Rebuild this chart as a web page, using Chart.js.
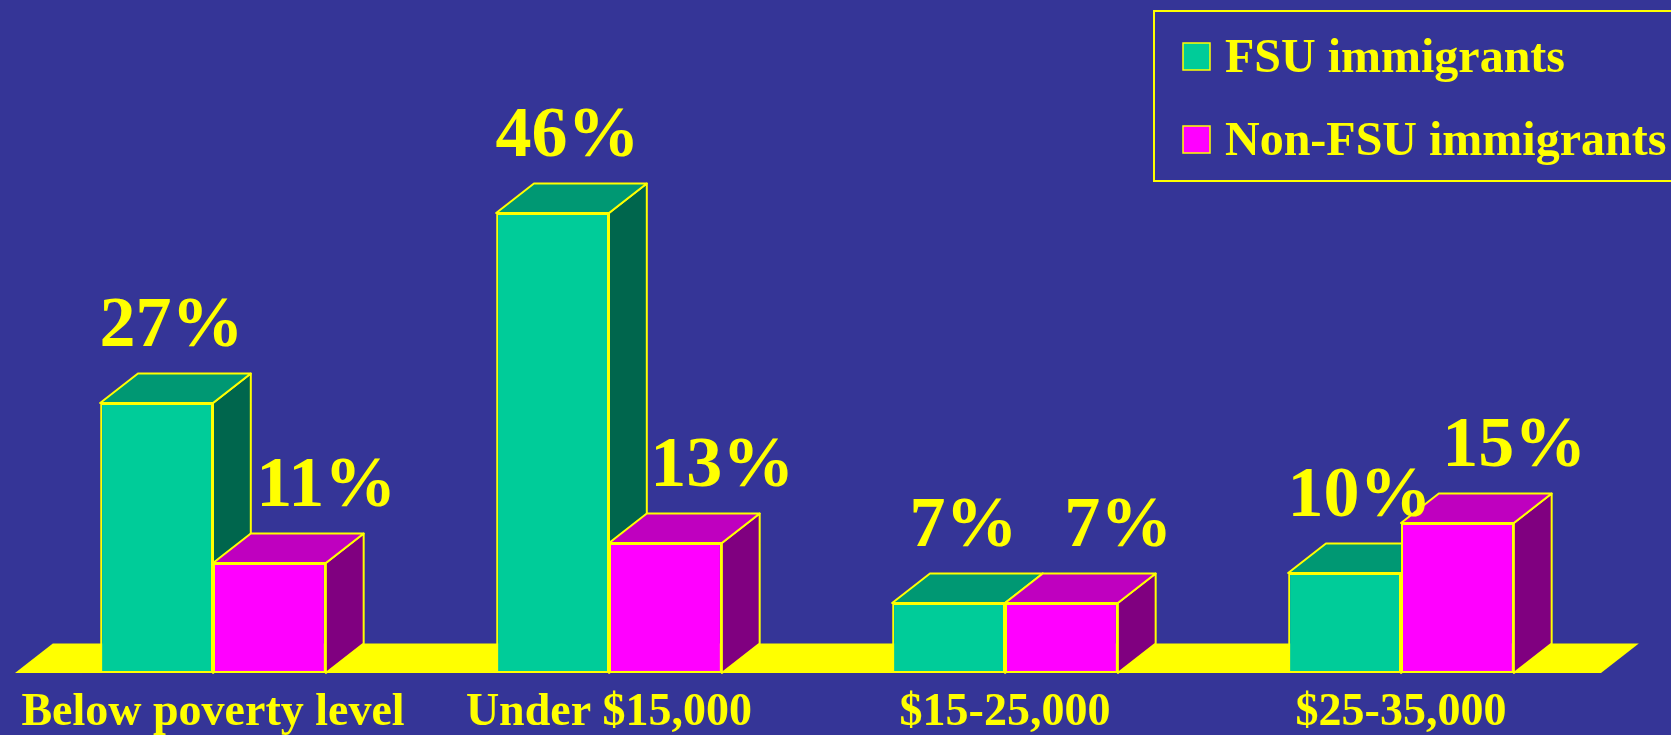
<!DOCTYPE html>
<html>
<head>
<meta charset="utf-8">
<title>Household income: FSU vs non-FSU immigrants</title>
<script src="https://cdn.jsdelivr.net/npm/chart.js@4/dist/chart.umd.min.js"></script>
<style>
  html, body { margin: 0; padding: 0; background: #353597; }
  #wrap { width: 1671px; height: 735px; }
</style>
</head>
<body>
<div id="wrap"><canvas id="incomeChart" width="1671" height="735"></canvas></div>
<script>
// Income brackets and share of each group (%)
const categories = ['Below poverty level', 'Under $15,000', '$15-25,000', '$25-35,000'];
const fsuValues = [27, 46, 7, 10];
const nonFsuValues = [11, 13, 7, 15];
const seriesNames = ['FSU immigrants', 'Non-FSU immigrants'];

const YELLOW = '#FFFF00';
const SERIF = '"Liberation Serif", "Times New Roman", serif';

// front / top / side shades per series
const shades = [
    { front: '#00CC99', top: '#009873', side: '#00664D' },
    { front: '#FF00FF', top: '#BF00BF', side: '#800080' }
];

// draws the floor slab, the top and side faces of each bar, the legend box and value labels
const bars3d = {
    id: 'bars3d',
    beforeDraw(chart) {
        const ctx = chart.ctx;
        ctx.save();
        ctx.fillStyle = '#353597';
        ctx.fillRect(0, 0, chart.width, chart.height);
        ctx.restore();
    },
    beforeDatasetsDraw(chart) {
        const ctx = chart.ctx;
        const area = chart.chartArea;
        const first = chart.getDatasetMeta(0).data[0];
        const dx = first.width * 0.335;
        const dy = dx * 0.78;
        const base = chart.scales.y.getPixelForValue(0);

        ctx.save();
        // floor
        ctx.fillStyle = YELLOW;
        ctx.beginPath();
        ctx.moveTo(area.left, base);
        ctx.lineTo(area.left + dx, base - dy);
        ctx.lineTo(area.right + dx + 2, base - dy);
        ctx.lineTo(area.right + 2, base);
        ctx.closePath();
        ctx.fill();

        ctx.strokeStyle = YELLOW;
        ctx.lineWidth = 2;
        ctx.lineJoin = 'round';
        categories.forEach((_, i) => {
            chart.data.datasets.forEach((ds, d) => {
                const bar = chart.getDatasetMeta(d).data[i];
                const x1 = bar.x - bar.width / 2;
                const x2 = bar.x + bar.width / 2;
                const y = bar.y;
                // side face
                ctx.fillStyle = shades[d].side;
                ctx.beginPath();
                ctx.moveTo(x2, y);
                ctx.lineTo(x2 + dx, y - dy);
                ctx.lineTo(x2 + dx, base - dy);
                ctx.lineTo(x2, base);
                ctx.closePath();
                ctx.fill();
                ctx.stroke();
                // top face
                ctx.fillStyle = shades[d].top;
                ctx.beginPath();
                ctx.moveTo(x1, y);
                ctx.lineTo(x1 + dx, y - dy);
                ctx.lineTo(x2 + dx, y - dy);
                ctx.lineTo(x2, y);
                ctx.closePath();
                ctx.fill();
                ctx.stroke();
            });
        });
        ctx.restore();
    },
    afterDatasetsDraw(chart) {
        const ctx = chart.ctx;
        const first = chart.getDatasetMeta(0).data[0];
        const dx = first.width * 0.335;
        const dy = dx * 0.78;
        const nudge = [-4, 38];

        ctx.save();
        ctx.fillStyle = YELLOW;
        ctx.font = 'bold 72px ' + SERIF;
        ctx.textAlign = 'center';
        ctx.textBaseline = 'alphabetic';
        chart.data.datasets.forEach((ds, d) => {
            chart.getDatasetMeta(d).data.forEach((bar, i) => {
                const tx = bar.x + dx / 2 + nudge[d];
                const ty = bar.y - dy - 28;
                ctx.fillText(ds.data[i] + '%', tx, ty);
            });
        });

        // legend
        ctx.strokeStyle = YELLOW;
        ctx.lineWidth = 2;
        ctx.strokeRect(1154, 11, 560, 170);
        ctx.font = 'bold 48px ' + SERIF;
        ctx.textAlign = 'left';
        chart.data.datasets.forEach((ds, d) => {
            const top = 43 + d * 83;
            ctx.fillStyle = shades[d].front;
            ctx.fillRect(1183, top, 27, 27);
            ctx.lineWidth = 1.5;
            ctx.strokeRect(1183, top, 27, 27);
            ctx.fillStyle = YELLOW;
            ctx.fillText(ds.label, 1225, top + 29);
        });
        ctx.restore();
    }
};

new Chart(document.getElementById('incomeChart'), {
    type: 'bar',
    data: {
        labels: categories,
        datasets: [
            {
                label: seriesNames[0],
                data: fsuValues,
                backgroundColor: shades[0].front,
                borderColor: YELLOW,
                borderWidth: 2,
                borderSkipped: false
            },
            {
                label: seriesNames[1],
                data: nonFsuValues,
                backgroundColor: shades[1].front,
                borderColor: YELLOW,
                borderWidth: 2,
                borderSkipped: false
            }
        ]
    },
    options: {
        responsive: false,
        animation: false,
        devicePixelRatio: 1,
        layout: { padding: { top: 173, left: 15, right: 72, bottom: 0 } },
        categoryPercentage: 0.57,
        barPercentage: 1.0,
        plugins: {
            legend: { display: false },
            tooltip: { enabled: false }
        },
        scales: {
            y: { display: false, min: 0, max: 50 },
            x: {
                grid: { display: false, drawTicks: false },
                border: { display: false },
                ticks: {
                    color: YELLOW,
                    font: { family: SERIF, size: 46, weight: 'bold' },
                    padding: 13,
                    maxRotation: 0,
                    autoSkip: false
                },
                afterFit(scale) { scale.height = 62; }
            }
        }
    },
    plugins: [bars3d]
});
</script>
</body>
</html>
